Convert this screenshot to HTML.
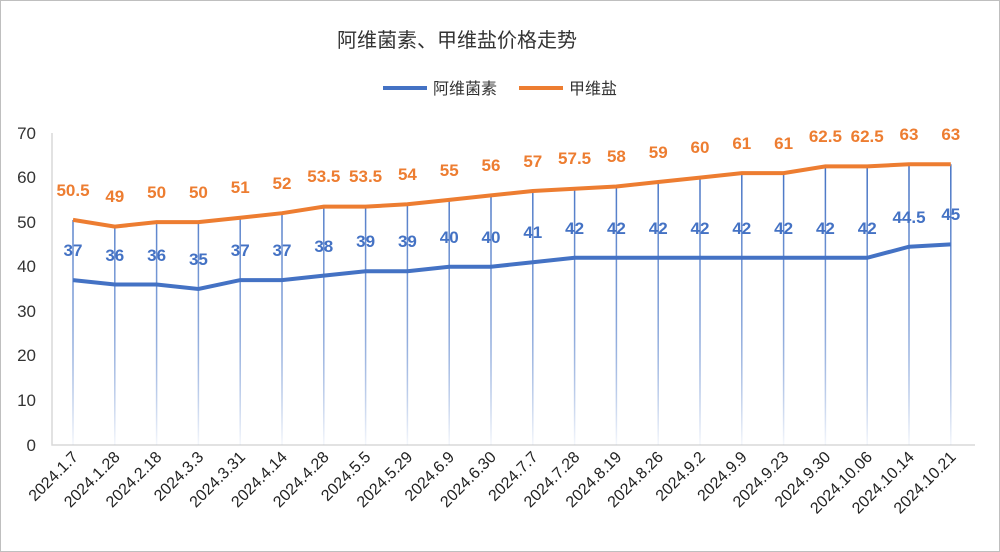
<!DOCTYPE html><html><head><meta charset="utf-8"><style>body{margin:0;background:#fff}svg{display:block;font-family:"Liberation Sans","Noto Sans CJK SC",sans-serif}</style></head><body>
<svg width="1000" height="552" viewBox="0 0 1000 552">
<defs><linearGradient id="g" gradientUnits="userSpaceOnUse" x1="0" y1="165" x2="0" y2="445"><stop offset="0" stop-color="#4472c4"/><stop offset="0.5" stop-color="#7f9fd8"/><stop offset="1" stop-color="#4472c4" stop-opacity="0.05"/></linearGradient></defs>
<rect x="0.5" y="0.5" width="999" height="551" fill="#fff" stroke="#bfbfbf"/>
<text x="457" y="47" font-size="20" text-anchor="middle" fill="#333">阿维菌素、甲维盐价格走势</text>
<line x1="383" y1="88" x2="427" y2="88" stroke="#4472c4" stroke-width="4"/><text x="433" y="94" font-size="16" fill="#333">阿维菌素</text>
<line x1="519" y1="88" x2="563" y2="88" stroke="#ed7d31" stroke-width="4"/><text x="569" y="94" font-size="16" fill="#333">甲维盐</text>
<g font-size="17" fill="#333" text-anchor="end">
<text x="36" y="139">70</text><text x="36" y="183">60</text><text x="36" y="228">50</text><text x="36" y="272">40</text><text x="36" y="317">30</text><text x="36" y="361">20</text><text x="36" y="406">10</text><text x="36" y="451">0</text></g>
<polyline points="52,133 52,445 975,445" fill="none" stroke="#d9d9d9" stroke-width="1.5"/>
<g stroke-width="1.5" fill="none"><path d="M73 220V445M114.8 226.6V445M156.6 222.1V445M198.4 222.1V445M240.2 217.7V445M282 213.2V445M323.8 206.6V445M365.6 206.6V445M407.4 204.3V445M449.2 199.9V445M491 195.4V445M532.8 191V445M574.6 188.7V445M616.4 186.5V445M658.2 182V445M700 177.6V445M741.8 173.1V445M783.6 173.1V445M825.4 166.4V445M867.2 166.4V445M909 164.2V445M950.8 164.2V445" stroke="url(#g)"/></g>
<polyline fill="none" stroke="#4472c4" stroke-width="4" points="73,280.1 114.8,284.5 156.6,284.5 198.4,289 240.2,280.1 282,280.1 323.8,275.6 365.6,271.2 407.4,271.2 449.2,266.7 491,266.7 532.8,262.3 574.6,257.8 616.4,257.8 658.2,257.8 700,257.8 741.8,257.8 783.6,257.8 825.4,257.8 867.2,257.8 909,246.7 950.8,244.4"/>
<polyline fill="none" stroke="#ed7d31" stroke-width="4" points="73,219.9 114.8,226.6 156.6,222.1 198.4,222.1 240.2,217.7 282,213.2 323.8,206.6 365.6,206.6 407.4,204.3 449.2,199.9 491,195.4 532.8,191 574.6,188.7 616.4,186.5 658.2,182 700,177.6 741.8,173.1 783.6,173.1 825.4,166.4 867.2,166.4 909,164.2 950.8,164.2"/>
<g font-size="17" font-weight="bold" fill="#ed7d31" text-anchor="middle">
<text x="73" y="196">50.5</text><text x="114.8" y="202">49</text><text x="156.6" y="198">50</text><text x="198.4" y="198">50</text><text x="240.2" y="193">51</text><text x="282" y="189">52</text><text x="323.8" y="182">53.5</text><text x="365.6" y="182">53.5</text><text x="407.4" y="180">54</text><text x="449.2" y="176">55</text><text x="491" y="171">56</text><text x="532.8" y="167">57</text><text x="574.6" y="164">57.5</text><text x="616.4" y="162">58</text><text x="658.2" y="158">59</text><text x="700" y="153">60</text><text x="741.8" y="149">61</text><text x="783.6" y="149">61</text><text x="825.4" y="142">62.5</text><text x="867.2" y="142">62.5</text><text x="909" y="140">63</text><text x="950.8" y="140">63</text></g>
<g font-size="17" font-weight="bold" fill="#4472c4" text-anchor="middle">
<text x="73" y="256">37</text><text x="114.8" y="261">36</text><text x="156.6" y="261">36</text><text x="198.4" y="265">35</text><text x="240.2" y="256">37</text><text x="282" y="256">37</text><text x="323.8" y="252">38</text><text x="365.6" y="247">39</text><text x="407.4" y="247">39</text><text x="449.2" y="243">40</text><text x="491" y="243">40</text><text x="532.8" y="238">41</text><text x="574.6" y="234">42</text><text x="616.4" y="234">42</text><text x="658.2" y="234">42</text><text x="700" y="234">42</text><text x="741.8" y="234">42</text><text x="783.6" y="234">42</text><text x="825.4" y="234">42</text><text x="867.2" y="234">42</text><text x="909" y="223">44.5</text><text x="950.8" y="220">45</text></g>
<g font-size="16" fill="#222" text-anchor="end">
<text transform="translate(79,458) rotate(-45)">2024.1.7</text>
<text transform="translate(120.8,458) rotate(-45)">2024.1.28</text>
<text transform="translate(162.6,458) rotate(-45)">2024.2.18</text>
<text transform="translate(204.4,458) rotate(-45)">2024.3.3</text>
<text transform="translate(246.2,458) rotate(-45)">2024.3.31</text>
<text transform="translate(288,458) rotate(-45)">2024.4.14</text>
<text transform="translate(329.8,458) rotate(-45)">2024.4.28</text>
<text transform="translate(371.6,458) rotate(-45)">2024.5.5</text>
<text transform="translate(413.4,458) rotate(-45)">2024.5.29</text>
<text transform="translate(455.2,458) rotate(-45)">2024.6.9</text>
<text transform="translate(497,458) rotate(-45)">2024.6.30</text>
<text transform="translate(538.8,458) rotate(-45)">2024.7.7</text>
<text transform="translate(580.6,458) rotate(-45)">2024.7.28</text>
<text transform="translate(622.4,458) rotate(-45)">2024.8.19</text>
<text transform="translate(664.2,458) rotate(-45)">2024.8.26</text>
<text transform="translate(706,458) rotate(-45)">2024.9.2</text>
<text transform="translate(747.8,458) rotate(-45)">2024.9.9</text>
<text transform="translate(789.6,458) rotate(-45)">2024.9.23</text>
<text transform="translate(831.4,458) rotate(-45)">2024.9.30</text>
<text transform="translate(873.2,458) rotate(-45)">2024.10.06</text>
<text transform="translate(915,458) rotate(-45)">2024.10.14</text>
<text transform="translate(956.8,458) rotate(-45)">2024.10.21</text></g>
</svg></body></html>
